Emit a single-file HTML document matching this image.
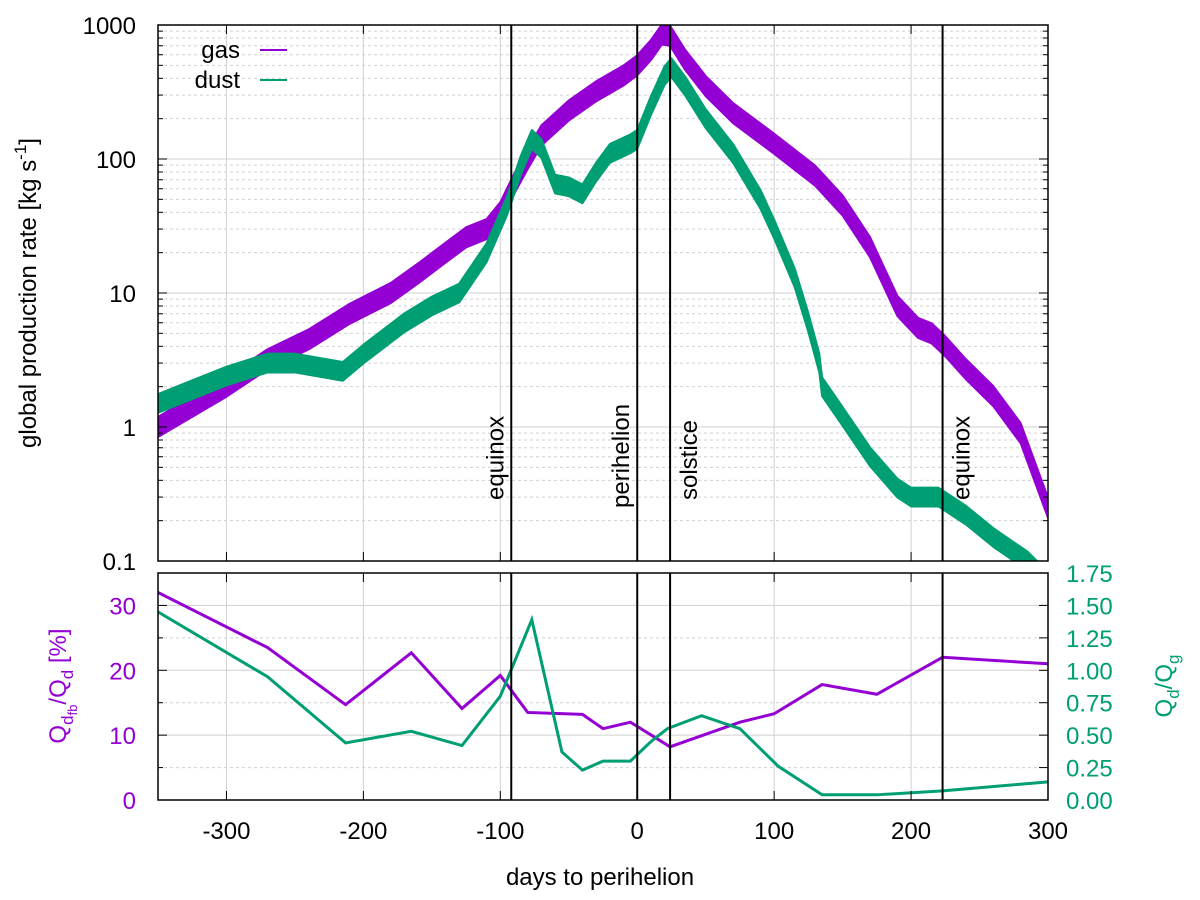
<!DOCTYPE html>
<html><head><meta charset="utf-8"><style>
html,body{margin:0;padding:0;background:#fff;}
svg{display:block;font-family:"Liberation Sans",sans-serif;}
</style></head><body>
<svg id="chart" width="1200" height="900" viewBox="0 0 1200 900" xmlns="http://www.w3.org/2000/svg"></svg>
<script>
const gasDays=[-350,-300,-270,-240,-210,-180,-160,-140,-125,-110,-100,-90,-80,-70,-50,-30,-10,0,10,18,24,35,50,70,100,130,150,170,190,205,215,225,240,260,280,300];
const gasVals=[1.0,2.0,3.2,4.5,7,10,14,20,26,30,40,65,100,150,230,320,420,500,650,850,830,550,350,220,130,75,45,22,8,5.5,5,4,2.7,1.7,0.9,0.25];
const dustDays=[-350,-300,-270,-250,-215,-200,-170,-150,-130,-110,-95,-85,-77,-70,-60,-50,-40,-30,-20,-5,0,10,20,25,35,50,70,90,100,115,125,133,135,150,170,190,200,220,240,260,285,292];
const dustVals=[1.5,2.4,3.0,3.0,2.6,3.5,6,8,10,20,45,90,140,120,65,62,55,80,110,130,140,250,420,480,350,200,110,50,30,13,6,3,2.0,1.2,0.6,0.35,0.3,0.3,0.22,0.15,0.1,0.085];
const fbDays=[-350,-270,-213,-165,-128,-100,-80,-40,-25,-5,24,75,100,135,175,223,300];
const fbVals=[32,23.5,14.7,22.7,14.1,19.2,13.5,13.2,11,12,8.2,12,13.3,17.8,16.3,22,21];
const ratioDays=[-350,-270,-213,-165,-128,-100,-77,-55,-40,-25,-5,10,22,47,75,103,135,175,223,300];
const ratioVals=[1.45,0.95,0.44,0.53,0.42,0.8,1.39,0.37,0.23,0.3,0.3,0.45,0.55,0.65,0.55,0.26,0.04,0.04,0.07,0.14];
const xTicks=[-300,-200,-100,0,100,200,300];
const yTicks=[0.1,1,10,100,1000];
const leftTicks=[0,10,20,30];
const rightTicks=[0,0.25,0.5,0.75,1,1.25,1.5,1.75];
const events=[{d:-92,t:"equinox",side:-1},{d:0,t:"perihelion",side:-1},{d:24,t:"solstice",side:1},{d:223,t:"equinox",side:1}];

const L=158,R=1048,T1=25,B1=561,T2=573,B2=800;
const PURPLE="#9400d3",GREEN="#009e73";
const sx=d=>L+(d+350)*(R-L)/650;
const sy=v=>T1+(3-Math.log10(v))*(B1-T1)/4;
const syl=v=>B2-v*(B2-T2)/35;
const syr=v=>B2-v*(B2-T2)/1.75;
const svg=document.getElementById('chart');
const NS="http://www.w3.org/2000/svg";
function mk(tag,at,parent){const e=document.createElementNS(NS,tag);for(const k in at)e.setAttribute(k,at[k]);(parent||svg).appendChild(e);return e;}

const defs=mk('defs',{});
const c1=mk('clipPath',{id:'c1'},defs);mk('rect',{x:L,y:T1,width:R-L,height:B1-T1},c1);
const c2=mk('clipPath',{id:'c2'},defs);mk('rect',{x:L,y:T2,width:R-L,height:B2-T2},c2);

const g1=mk('g',{});


for(let e=-1;e<3;e++)for(let m=2;m<10;m++){const y=sy(m*Math.pow(10,e));mk('line',{x1:L,x2:R,y1:y,y2:y,stroke:'#d0d0d0','stroke-dasharray':'3,3','stroke-width':1},g1);}
yTicks.forEach(v=>{const y=sy(v);mk('line',{x1:L,x2:R,y1:y,y2:y,stroke:'#d0d0d0','stroke-width':1},g1);});
xTicks.forEach(d=>{mk('line',{x1:sx(d),x2:sx(d),y1:T1,y2:B1,stroke:'#d0d0d0','stroke-width':1},g1);mk('line',{x1:sx(d),x2:sx(d),y1:T2,y2:B2,stroke:'#d0d0d0','stroke-width':1},g1);});
[5,15,25].forEach(v=>mk('line',{x1:L,x2:R,y1:syl(v),y2:syl(v),stroke:'#d0d0d0','stroke-dasharray':'3,3'},g1));
[10,20,30].forEach(v=>mk('line',{x1:L,x2:R,y1:syl(v),y2:syl(v),stroke:'#d0d0d0'},g1));

function band(days,vals,hw,color,name){
  const up=days.map((d,i)=>sx(d)+','+sy(vals[i]*Math.pow(10,hw)));
  const lo=days.map((d,i)=>sx(d)+','+sy(vals[i]/Math.pow(10,hw))).reverse();
  const p=mk('polygon',{points:up.concat(lo).join(' '),fill:color,stroke:color,'stroke-width':2,'stroke-linejoin':'round','clip-path':'url(#c1)'});
  
  
}
band(gasDays,gasVals,0.075,PURPLE,'gas-band');
band(dustDays,dustVals,0.07,GREEN,'dust-band');

const pf=mk('polyline',{points:fbDays.map((d,i)=>sx(d)+','+syl(fbVals[i])).join(' '),fill:'none',stroke:PURPLE,'stroke-width':3,'clip-path':'url(#c2)'});


const pr=mk('polyline',{points:ratioDays.map((d,i)=>sx(d)+','+syr(ratioVals[i])).join(' '),fill:'none',stroke:GREEN,'stroke-width':3,'clip-path':'url(#c2)'});



events.forEach(ev=>{
  const x=sx(ev.d);
  const l1=mk('line',{x1:x,x2:x,y1:T1,y2:B1,stroke:'#000','stroke-width':2});
  
  
  mk('line',{x1:x,x2:x,y1:T2,y2:B2,stroke:'#000','stroke-width':2});
  const bx=ev.side<0?x-8:x+27;
  const by=ev.t==='perihelion'?508:500;
  const t=mk('text',{x:0,y:0,transform:`translate(${bx},${by}) rotate(-90)`,'font-size':24,fill:'#000'});
  t.textContent=ev.t;
  
  
});

mk('rect',{x:L,y:T1,width:R-L,height:B1-T1,fill:'none',stroke:'#000','stroke-width':1.5});
mk('rect',{x:L,y:T2,width:R-L,height:B2-T2,fill:'none',stroke:'#000','stroke-width':1.5});

for(let e=-1;e<3;e++)for(let m=2;m<10;m++){const y=sy(m*Math.pow(10,e));mk('line',{x1:L,x2:L+5,y1:y,y2:y,stroke:'#000'});mk('line',{x1:R,x2:R-5,y1:y,y2:y,stroke:'#000'});}
yTicks.forEach(v=>{const y=sy(v);mk('line',{x1:L,x2:L+9,y1:y,y2:y,stroke:'#000'});mk('line',{x1:R,x2:R-9,y1:y,y2:y,stroke:'#000'});
  const t=mk('text',{x:L-22,y:y+9,'text-anchor':'end','font-size':24});t.textContent=String(v);
  
  });
xTicks.forEach(d=>{const x=sx(d);
  [[T1,T1+9],[B1,B1-9],[T2,T2+9],[B2,B2-9]].forEach(p=>mk('line',{x1:x,x2:x,y1:p[0],y2:p[1],stroke:'#000'}));
  const t=mk('text',{x:x,y:839,'text-anchor':'middle','font-size':24});t.textContent=String(d);
  
  });
leftTicks.forEach(v=>{const y=syl(v);mk('line',{x1:L,x2:L+9,y1:y,y2:y,stroke:'#000'});
  const t=mk('text',{x:L-22,y:y+9,'text-anchor':'end','font-size':24,fill:PURPLE});t.textContent=String(v);
  
  });
[5,15,25].forEach(v=>mk('line',{x1:L,x2:L+5,y1:syl(v),y2:syl(v),stroke:'#000'}));
rightTicks.forEach(v=>{const y=syr(v);mk('line',{x1:R,x2:R-9,y1:y,y2:y,stroke:'#000'});
  const t=mk('text',{x:R+18,y:y+9,'text-anchor':'start','font-size':24,fill:GREEN});t.textContent=v.toFixed(2);
  
  });
</script>
<svg style="position:absolute;left:0;top:0" width="1200" height="900">
  <text transform="translate(36,293) rotate(-90)" text-anchor="middle" font-size="24" font-family="Liberation Sans, sans-serif">global production rate [kg s<tspan dy="-10" font-size="17">-1</tspan><tspan dy="10">]</tspan></text>
  <text transform="translate(66,686) rotate(-90)" text-anchor="middle" font-size="24" fill="#9400d3" font-family="Liberation Sans, sans-serif">Q<tspan dy="7" font-size="17">d</tspan><tspan dy="4" font-size="13">fb</tspan><tspan dy="-11">/Q</tspan><tspan dy="7" font-size="17">d</tspan><tspan dy="-7"> [%]</tspan></text>
  <text transform="translate(1172,686) rotate(-90)" text-anchor="middle" font-size="24" fill="#009e73" font-family="Liberation Sans, sans-serif">Q<tspan dy="7" font-size="17">d</tspan><tspan dy="-7">/Q</tspan><tspan dy="7" font-size="17">g</tspan></text>
  <text x="600" y="885" text-anchor="middle" font-size="24" font-family="Liberation Sans, sans-serif">days to perihelion</text>
  <g font-family="Liberation Sans, sans-serif" font-size="24">
    <text x="240" y="58" text-anchor="end">gas</text>
    <line x1="260" x2="287" y1="50" y2="50" stroke="#9400d3" stroke-width="2"/>
    <text x="240" y="88" text-anchor="end">dust</text>
    <line x1="260" x2="287" y1="80" y2="80" stroke="#009e73" stroke-width="2"/>
  </g>
</svg>
</body></html>
